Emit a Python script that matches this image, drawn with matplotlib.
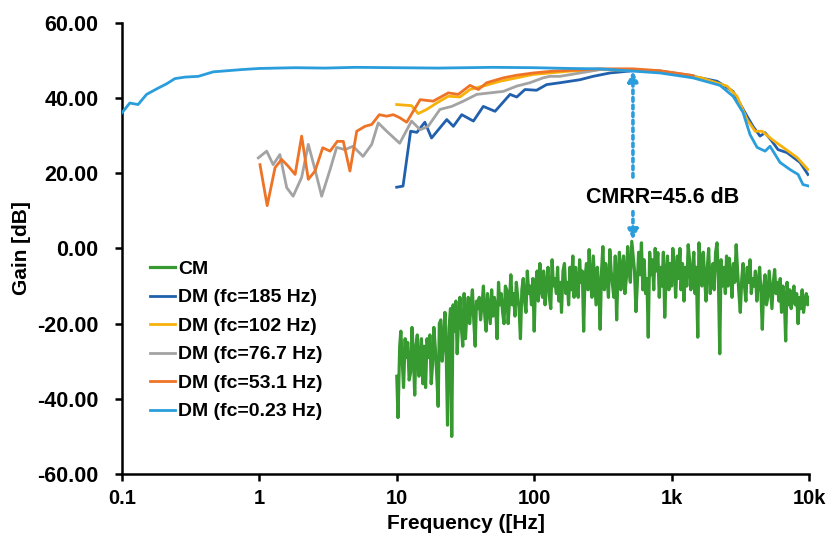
import matplotlib
matplotlib.use("Agg")
import matplotlib.pyplot as plt
from matplotlib.ticker import FixedLocator, NullLocator

plt.rcParams['font.family'] = ['Liberation Sans', 'DejaVu Sans']
plt.rcParams['font.weight'] = 'bold'

# ---------------- data ----------------
cm_f = [
    10.0, 10.2, 10.5, 10.7, 11.0, 11.2, 11.5, 11.7, 12.0, 12.3,
    12.6, 12.9, 13.2, 13.5, 13.8, 14.1, 14.5, 14.8, 15.1, 15.5,
    15.8, 16.2, 16.6, 17.0, 17.4, 17.8, 18.2, 18.6, 19.1, 19.5,
    20.0, 20.4, 20.9, 21.4, 21.9, 22.4, 22.9, 23.4, 24.0, 24.6,
    25.1, 25.7, 26.3, 26.9, 27.5, 28.2, 28.8, 29.5, 30.2, 30.9,
    31.6, 32.4, 33.1, 33.9, 34.7, 35.5, 36.3, 37.2, 38.0, 38.9,
    39.8, 40.7, 41.7, 42.7, 43.7, 44.7, 45.7, 46.8, 47.9, 49.0,
    50.1, 51.3, 52.5, 53.7, 55.0, 56.2, 57.5, 58.9, 60.3, 61.7,
    63.1, 64.6, 66.1, 67.6, 69.2, 70.8, 72.4, 74.1, 75.9, 77.6,
    79.4, 81.3, 83.2, 85.1, 87.1, 89.1, 91.2, 93.3, 95.5, 97.7,
    100, 102, 105, 107, 110, 112, 115, 117, 120, 123,
    126, 129, 132, 135, 138, 141, 145, 148, 151, 155,
    158, 162, 166, 170, 174, 178, 182, 186, 191, 195,
    200, 204, 209, 214, 219, 224, 229, 234, 240, 246,
    251, 257, 263, 269, 275, 282, 288, 295, 302, 309,
    316, 324, 331, 339, 347, 355, 363, 372, 380, 389,
    398, 407, 417, 427, 437, 447, 457, 468, 479, 490,
    501, 513, 525, 537, 550, 562, 575, 589, 603, 617,
    631, 646, 661, 676, 692, 708, 724, 741, 759, 776,
    794, 813, 832, 851, 871, 891, 912, 933, 955, 977,
    1000, 1020, 1050, 1070, 1100, 1120, 1150, 1170, 1200, 1230,
    1260, 1290, 1320, 1350, 1380, 1410, 1450, 1480, 1510, 1550,
    1580, 1620, 1660, 1700, 1740, 1780, 1820, 1860, 1910, 1950,
    2000, 2040, 2090, 2140, 2190, 2240, 2290, 2340, 2400, 2460,
    2510, 2570, 2630, 2690, 2750, 2820, 2880, 2950, 3020, 3090,
    3160, 3240, 3310, 3390, 3470, 3550, 3630, 3720, 3800, 3890,
    3980, 4070, 4170, 4270, 4370, 4470, 4570, 4680, 4790, 4900,
    5010, 5130, 5250, 5370, 5500, 5620, 5750, 5890, 6030, 6170,
    6310, 6460, 6610, 6760, 6920, 7080, 7240, 7410, 7590, 7760,
    7940, 8130, 8320, 8510, 8710, 8910, 9120, 9330, 9550, 9770,
    10000]
cm_g = [
    -34, -45, -26, -22, -31, -37, -24, -29, -25, -35,
    -33, -21, -28, -39, -26, -23, -34, -30, -24, -36,
    -26, -37, -24, -29, -23, -36, -31, -21, -27, -33,
    -42, -20, -19, -30, -25, -17, -28, -47, -21, -16,
    -50, -15, -22, -14, -28, -19, -13, -21, -26, -12,
    -24, -17, -13, -20, -15, -11, -19, -26, -14, -16,
    -13, -19, -15, -10, -18, -22, -12, -16, -20, -11,
    -18, -13, -16, -24, -9, -15, -12, -17, -20, -10,
    -11, -20, -14, -7, -15, -12, -18, -9, -13, -16,
    -24, -11, -8, -14, -17, -6, -12, -10, -15, -8,
    -22, -10, -6, -14, -4, -11, -13, -6, -15, -9,
    -5, -13, -16, -3, -10, -8, -12, -5, -14, -9,
    -17, -6, -4, -12, -9, -15, -5, -11, -2, -13,
    -5, -10, -13, -3, -9, -6, -22, -8, -4, -11,
    -0.3, -9, -13, -2, -8, -15, -5, -10, -21.5, -6,
    0.5, -11, -4, -8, -13, -0.3, -6, -10, -13, -2,
    -19, -7, -1, -11, -5, -2, -12, -8, 0.5, -6,
    -9, 1.9, -2, -6, -16.8, -10, -1, -7, 1.5, -11,
    -3, -12, -8, -23.6, -1, -7, -3, -11, 0, -6,
    -1.1, -13, -5, -10, -1, -18.3, -7, -2, -11, -4,
    -10, 0, -6, -13, -2, -8, 0, -11, -4, -14,
    -5, -10, 1, -3, -11, -7, -1, -12, -5, -23.6,
    1.5, -4, -10, -1, -8, -14, -5, 0, -12, -6,
    -4, -11, -1, 1.5, -8, -28, -3, -10, -5, -12,
    -2, -10, -2.6, -7, -13, -4, -9, 1, -6, -12,
    -17, -8, -4, -10, -14, -5, -9, -3, -12, -8,
    -10, -6, -14, -9, -5, -12, -21.5, -10, -7, -15,
    -13, -6, -11, -16, -9, -5.6, -12, -9, -14, -8,
    -17, -10, -13, -24.6, -9, -15, -11, -16, -12.7, -10,
    -15, -12, -20, -13, -16, -11, -17, -14, -12, -15,
    -13]

dm185_f = [9.98, 11.1, 12.6, 14.0, 16.0, 17.9, 20.6, 23.1, 25.8, 29.7, 36.1, 42.6, 51.9, 66.7,
           74.6, 85.7, 104, 123, 154, 215, 268, 356, 523, 824, 1430, 2140, 2800, 3540, 3910,
           4400, 4790, 5380, 5950, 6920, 8590, 9820]
dm185_g = [16.3, 16.6, 31.2, 30.9, 33.6, 29.4, 32.1, 34.3, 32.5, 35.6, 33.9, 37.8, 36.5, 41.0,
           40.3, 42.3, 42.1, 43.6, 44.1, 44.9, 45.8, 46.7, 47.3, 47.2, 45.8, 44.5, 41.8, 35.2, 32.5,
           29.9, 30.8, 28.5, 26.3, 25.5, 22.9, 19.7]

dm102_f = [9.98, 12.8, 14.3, 16.5, 19.5, 23.7, 28.8, 34.1, 42.4, 56.4, 74.6, 98, 130, 182, 301,
           523, 824, 1610, 2530, 2990, 3540, 4050, 4550, 5380, 6470, 8180, 9820]
dm102_g = [38.3, 38.0, 35.9, 37.0, 38.7, 40.5, 40.3, 42.3, 43.2, 44.5, 45.4, 46.3, 46.7, 47.2, 47.6,
           47.4, 47.0, 45.5, 43.2, 40.5, 34.3, 31.2, 31.2, 29.0, 26.9, 24.2, 21.0]

dm767_f = [0.982, 1.13, 1.26, 1.41, 1.58, 1.76, 2.03, 2.27, 2.54, 2.84, 3.27, 3.65, 4.20, 4.80,
           5.68, 6.57, 7.33, 8.44, 10.5, 12.8, 14.8, 16.9, 20.6, 25.1, 30.5, 38.2, 47.6, 59.6,
           74.6, 93.1, 116, 130, 154, 215, 301, 523, 824, 1430]
dm767_g = [24.1, 25.9, 22.3, 25.0, 16.2, 13.9, 18.9, 27.7, 21.0, 13.9, 21.0, 26.9, 26.3, 27.2,
           24.5, 27.7, 33.4, 31.2, 28.0, 33.9, 31.6, 32.5, 37.0, 37.8, 39.2, 41.0, 41.4, 41.8,
           43.2, 44.1, 45.4, 45.8, 45.8, 46.7, 47.6, 47.6, 47.2, 46.0]

dm531_f = [1.01, 1.14, 1.30, 1.45, 1.62, 1.82, 2.03, 2.27, 2.54, 2.89, 3.27, 3.69, 4.08, 4.56,
           5.11, 5.87, 6.57, 7.46, 8.44, 9.43, 10.5, 11.8, 14.8, 18.4, 23.7, 28.0, 34.1, 39.2,
           45.1, 59.6, 74.6, 98.5, 138, 182, 301, 523, 824, 1430]
dm531_g = [22.3, 11.4, 21.5, 23.7, 21.9, 19.7, 29.9, 18.4, 20.6, 26.8, 25.9, 28.5, 28.5, 20.6,
           31.2, 32.5, 33.0, 35.6, 35.2, 35.6, 34.8, 33.6, 39.6, 39.2, 41.4, 41.0, 43.4, 42.3,
           44.1, 45.4, 46.1, 46.7, 47.2, 47.4, 47.8, 47.8, 47.3, 46.0]

dm023_f = [0.1, 0.114, 0.131, 0.151, 0.184, 0.211, 0.243, 0.287, 0.359, 0.462, 0.743, 1.0, 1.82,
           3.0, 5.0, 10, 20, 50, 100, 182, 301, 523, 824, 1430, 2250, 2800, 3310, 3720, 4190,
           4790, 5200, 6150, 7270, 8320, 9040, 10000]
dm023_g = [36.1, 38.7, 38.3, 41.0, 42.7, 43.8, 45.2, 45.6, 45.8, 47.0, 47.6, 47.9, 48.1,
           48.0, 48.2, 48.1, 48.0, 48.2, 48.1, 47.9, 47.8, 47.2, 46.7, 45.4, 43.4, 40.5, 36.2,
           30.3, 26.9, 25.9, 27.2, 22.9, 21.0, 19.7, 17.0, 16.6]

series = [
    ("CM", cm_f, cm_g, "#379A30"),
    ("DM (fc=185 Hz)", dm185_f, dm185_g, "#2160AD"),
    ("DM (fc=102 Hz)", dm102_f, dm102_g, "#F7B10A"),
    ("DM (fc=76.7 Hz)", dm767_f, dm767_g, "#A3A3A3"),
    ("DM (fc=53.1 Hz)", dm531_f, dm531_g, "#EE7326"),
    ("DM (fc=0.23 Hz)", dm023_f, dm023_g, "#2A9DDC"),
]

x_ticks = [0.1, 1, 10, 100, 1000, 10000]
x_ticklabels = ["0.1", "1", "10", "100", "1k", "10k"]
y_ticks = [-60, -40, -20, 0, 20, 40, 60]

cmrr_f = 523
cmrr_top = 47.2
cmrr_bottom = 2.3
cmrr_label = "CMRR=45.6 dB"

# ---------------- figure ----------------
fig = plt.figure(figsize=(8.32, 5.42), dpi=100)
ax = fig.add_axes([0.1466, 0.1255, 0.8258, 0.8321])

for i, (name, f, g, c) in enumerate(series):
    lw = 2.3 if name == "CM" else 2.0
    ax.plot(f, g, color=c, lw=lw, label=name, zorder=2 + i, solid_joinstyle='round')

ax.set_xscale('log')
ax.set_xlim(0.1, 10000)
ax.set_ylim(-60, 60)
ax.xaxis.set_major_locator(FixedLocator(x_ticks))
ax.xaxis.set_minor_locator(NullLocator())
ax.set_xticklabels(x_ticklabels)
ax.set_yticks(y_ticks)
ax.set_yticklabels([f"{v:.2f}" for v in y_ticks])

for s in ['top', 'right']:
    ax.spines[s].set_visible(False)
for s in ['left', 'bottom']:
    ax.spines[s].set_linewidth(1.8)
ax.tick_params(axis='both', direction='out', length=5, width=1.8)
ax.tick_params(axis='y', labelsize=15.5, pad=12)
ax.tick_params(axis='x', labelsize=14.5, pad=6)
for lab in ax.get_xticklabels() + ax.get_yticklabels():
    lab.set_fontweight('bold')

ax.set_xlabel("Frequency ([Hz]", fontsize=15, fontweight='bold', labelpad=4)
ax.set_ylabel("Gain [dB]", fontsize=15, fontweight='bold', labelpad=4)

# CMRR annotation
arrow_kw = dict(arrowstyle='-|>', color="#2A9DDC", lw=2.6, linestyle=(0, (1, 1.1)),
                mutation_scale=14, shrinkA=0, shrinkB=0)
ax.annotate('', xy=(cmrr_f, cmrr_top), xytext=(cmrr_f, 19.0), arrowprops=arrow_kw, zorder=10)
ax.annotate('', xy=(cmrr_f, cmrr_bottom), xytext=(cmrr_f, 9.8), arrowprops=arrow_kw, zorder=10)
ax.text(865, 13.6, cmrr_label, ha='center', va='center', fontsize=15.5, fontweight='bold', zorder=11)

leg = ax.legend(loc='upper left', bbox_to_anchor=(0.041, 0.474), frameon=False,
                fontsize=14, handlelength=1.3, handletextpad=0.12, labelspacing=0.56,
                borderpad=0, borderaxespad=0)
for t in leg.get_texts():
    t.set_fontweight('bold')

fig.savefig("out.png", dpi=100)
